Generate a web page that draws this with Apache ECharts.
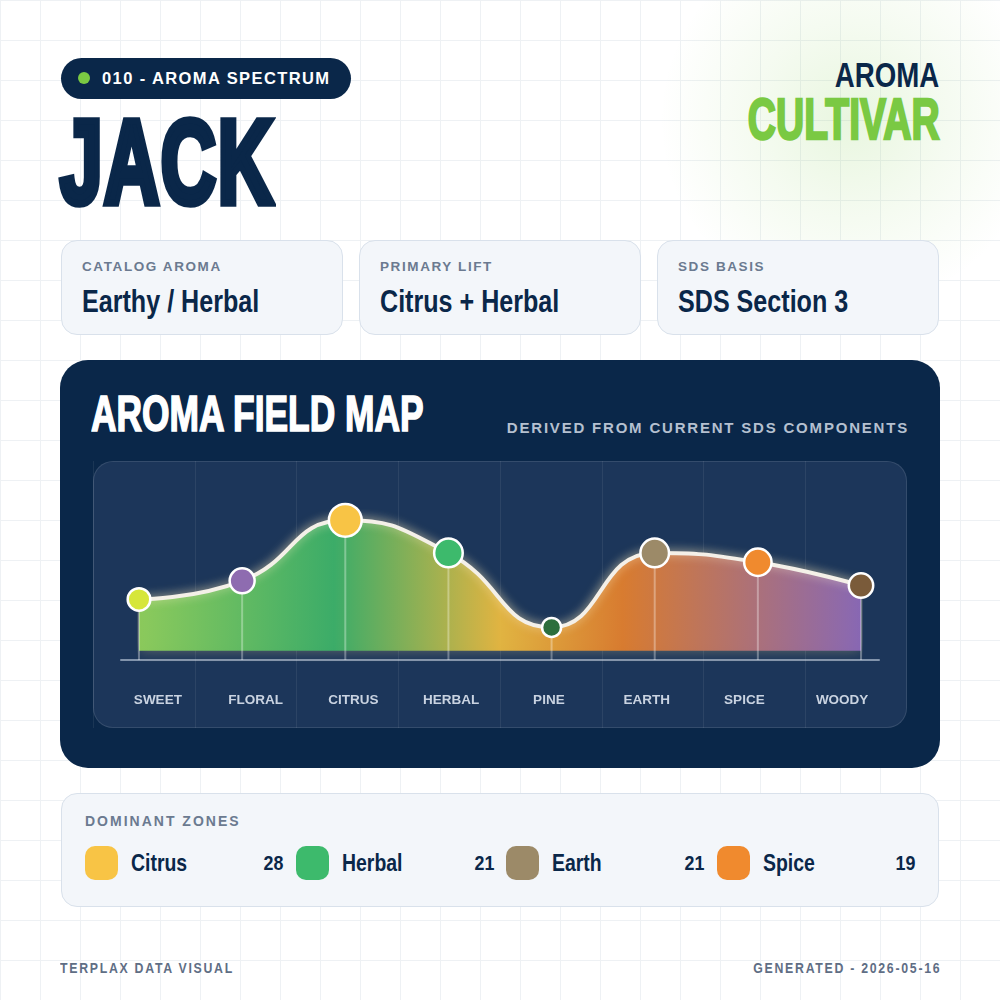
<!DOCTYPE html>
<html>
<head>
<meta charset="utf-8">
<script src="https://cdn.jsdelivr.net/npm/echarts@6/dist/echarts.min.js"></script>
<style>
  html, body { margin:0; padding:0; }
  body {
    width:1000px; height:1000px; position:relative; overflow:hidden;
    background-color:#ffffff;
    background-image:
      linear-gradient(to right, #eef1f4 1px, transparent 1px),
      linear-gradient(to bottom, #eef1f4 1px, transparent 1px);
    background-size:40px 40px;
    font-family:'Liberation Sans', Arial, sans-serif;
  }
  .abs { position:absolute; white-space:nowrap; }
  .glow { position:absolute; left:0; top:0; width:1000px; height:1000px;
    background: radial-gradient(circle 190px at 850px 120px, rgba(122,201,67,0.17) 0%, rgba(122,201,67,0.08) 50%, rgba(122,201,67,0) 100%); }
  .b { font-weight:700; }
  .pill { left:61px; top:58px; width:290px; height:41px; border-radius:21px; background:#0a2749; }
  .pilldot { left:78px; top:72px; width:12px; height:12px; border-radius:6px; background:#7ac943; }
  .pilltext { left:102px; top:70px; font-size:16.5px; line-height:16.5px; font-weight:700; color:#fff; letter-spacing:1.4px; }
  .jack { left:60px; top:102.5px; font-size:100px; line-height:100px; color:#0a2749; letter-spacing:2px;
    transform:scale(0.765,1.18); transform-origin:left top; -webkit-text-stroke:6.5px #0a2749; }
  .aroma-r { right:61px; top:57.4px; font-size:35px; line-height:35px; color:#0a2749;
    transform:scaleX(0.79); transform-origin:right top; }
  .cultivar { right:60px; top:90.9px; font-size:46px; line-height:46px; color:#7ac943;
    transform:scale(0.85,1.23); transform-origin:right top; -webkit-text-stroke:2px #7ac943; }
  .card { position:absolute; box-sizing:border-box; background:#f3f6fa; border:1px solid #d9e1eb; border-radius:16px; }
  .clabel { left:20px; top:18.6px; font-size:13.5px; line-height:13.5px; font-weight:700; color:#6b7a90; letter-spacing:1.6px; }
  .cvalue { left:20px; top:44.8px; font-size:31px; line-height:31px; color:#0a2749; font-weight:700;
    transform:scaleX(0.81); transform-origin:left top; }
  .panel { left:60px; top:360px; width:880px; height:408px; border-radius:28px; background:#0a2749; }
  .ptitle { left:91px; top:389.2px; font-size:42px; line-height:42px; color:#fff; font-weight:700;
    transform:scale(0.842,1.21); transform-origin:left top; -webkit-text-stroke:1.4px #fff; }
  .psub { right:91px; top:420.3px; font-size:15px; line-height:15px; font-weight:700; color:#b5c0d0; letter-spacing:1.8px; }
  .inner { left:93px; top:461px; width:814px; height:267px; box-sizing:border-box; border-radius:20px;
    background:#1c365a; border:1px solid rgba(255,255,255,0.11); }
  #chart { position:absolute; left:93px; top:461px; width:814px; height:267px; }
  .zlabel { left:23px; top:20px; font-size:14px; line-height:14px; font-weight:700; color:#6b7a90; letter-spacing:2px; }
  .swatch { width:33px; height:34px; border-radius:10px; }
  .zname { font-size:24px; line-height:24px; color:#0a2749; font-weight:700; transform:scaleX(0.81); transform-origin:left top; }
  .znum { font-size:21px; line-height:21px; color:#0a2749; font-weight:700; transform:scaleX(0.85); transform-origin:right top; }
  .foot { top:960.3px; font-size:15px; line-height:15px; color:#5f6e85; font-weight:700; letter-spacing:2.1px; }
</style>
</head>
<body>
<div class="glow"></div>

<div class="abs pill"></div>
<div class="abs pilldot"></div>
<div class="abs pilltext">010 - AROMA SPECTRUM</div>
<div class="abs jack b">JACK</div>
<div class="abs aroma-r b">AROMA</div>
<div class="abs cultivar b">CULTIVAR</div>

<div id="cards"></div>

<div class="abs panel"></div>
<div class="abs ptitle">AROMA FIELD MAP</div>
<div class="abs psub">DERIVED FROM CURRENT SDS COMPONENTS</div>
<div class="abs inner"></div>
<div id="chart"></div>

<div class="card" id="zones" style="left:61px; top:793px; width:878px; height:114px;">
  <div class="abs zlabel">DOMINANT ZONES</div>
</div>

<div class="abs foot" style="left:60px; transform:scaleX(0.82); transform-origin:left top;">TERPLAX DATA VISUAL</div>
<div class="abs foot" style="right:59px; transform:scaleX(0.82); transform-origin:right top;">GENERATED - 2026-05-16</div>

<script>
// ---- data ----
const categories = ['SWEET', 'FLORAL', 'CITRUS', 'HERBAL', 'PINE', 'EARTH', 'SPICE', 'WOODY'];
const intensity = [11, 15, 28, 21, 5, 21, 19, 14];
const dotColors = ['#d6e63a', '#8e6cb0', '#f8c445', '#3dba6c', '#2c6e3d', '#9c8a68', '#f08a2e', '#7a5b3a'];

const zoneNames = ['Citrus', 'Herbal', 'Earth', 'Spice'];
const zoneValues = [28, 21, 21, 19];
const zoneColors = ['#f8c445', '#3dba6c', '#9c8a68', '#f08a2e'];

const cardLabels = ['CATALOG AROMA', 'PRIMARY LIFT', 'SDS BASIS'];
const cardValues = ['Earthy / Herbal', 'Citrus + Herbal', 'SDS Section 3'];

const yMin = -2, yMax = 30;

// ---- info cards ----
const cardsEl = document.getElementById('cards');
cardLabels.forEach((lab, i) => {
  const c = document.createElement('div');
  c.className = 'card';
  c.style.left = (61 + i * 298) + 'px';
  c.style.top = '240px';
  c.style.width = '282px';
  c.style.height = '95px';
  c.innerHTML = '<div class="abs clabel">' + lab + '</div><div class="abs cvalue">' + cardValues[i] + '</div>';
  cardsEl.appendChild(c);
});

// ---- dominant zones ----
const zonesEl = document.getElementById('zones');
const zonesInnerW = 876;
zoneNames.forEach((name, i) => {
  const colLeft = 23 + i * 210.5;
  const colW = 198.5;
  const sw = document.createElement('div');
  sw.className = 'abs swatch';
  sw.style.left = colLeft + 'px'; sw.style.top = '52px'; sw.style.background = zoneColors[i];
  zonesEl.appendChild(sw);
  const nm = document.createElement('div');
  nm.className = 'abs zname';
  nm.style.left = (colLeft + 46) + 'px'; nm.style.top = '56.5px';
  nm.textContent = name;
  zonesEl.appendChild(nm);
  const nv = document.createElement('div');
  nv.className = 'abs znum';
  nv.style.right = (zonesInnerW - colLeft - colW) + 'px'; nv.style.top = '57.5px';
  nv.textContent = zoneValues[i];
  zonesEl.appendChild(nv);
});

// ---- chart ----
const chart = echarts.init(document.getElementById('chart'), null, { renderer: 'canvas' });
const hidden = { show: false };
const option = {
  animation: false,
  grid: [
    { left: 0, right: 0, top: 0, bottom: 0 },
    { left: 16, right: 16, top: 0, bottom: 68 },
    { left: 28, right: 28, top: 0, bottom: 68 },
    { left: 46, right: 46, top: 50, bottom: 68 }
  ],
  xAxis: [
    { gridIndex: 0, type: 'category', data: categories, boundaryGap: true,
      axisLine: hidden, axisTick: hidden, axisLabel: hidden,
      splitLine: { show: true, interval: 0, lineStyle: { color: 'rgba(255,255,255,0.07)', width: 1 } } },
    { gridIndex: 1, type: 'category', data: categories, boundaryGap: true,
      axisLine: hidden, axisTick: hidden, splitLine: hidden,
      axisLabel: { show: true, interval: 0, margin: 33, color: '#c9d3e1', fontSize: 13.5, fontWeight: 'bold',
        fontFamily: "'Liberation Sans', Arial, sans-serif" } },
    { gridIndex: 2, type: 'category', data: categories, boundaryGap: true,
      axisLine: { show: true, lineStyle: { color: 'rgba(215,225,240,0.55)', width: 2 } },
      axisTick: hidden, axisLabel: hidden, splitLine: hidden },
    { gridIndex: 3, type: 'category', data: categories, boundaryGap: false, show: false }
  ],
  yAxis: [
    { gridIndex: 0, type: 'value', show: false, splitLine: hidden },
    { gridIndex: 1, type: 'value', show: false, splitLine: hidden },
    { gridIndex: 2, type: 'value', show: false, splitLine: hidden },
    { gridIndex: 3, type: 'value', show: false, min: yMin, max: yMax, splitLine: hidden }
  ],
  series: [
    {
      type: 'line', xAxisIndex: 3, yAxisIndex: 3, data: intensity,
      smooth: 0.5, symbol: 'none', z: 2,
      lineStyle: { color: '#f4f0e8', width: 4, shadowBlur: 10, shadowColor: 'rgba(255,240,200,0.6)' },
      areaStyle: {
        origin: 'auto', opacity: 0.97,
        shadowBlur: 14, shadowColor: 'rgba(240,215,140,0.35)',
        color: new echarts.graphic.LinearGradient(0, 0, 1, 0, [
          { offset: 0, color: '#8ecd5b' },
          { offset: 0.27, color: '#3bae68' },
          { offset: 0.5, color: '#e5b640' },
          { offset: 0.67, color: '#dc7c2e' },
          { offset: 1, color: '#8a68b6' }
        ])
      }
    },
    {
      type: 'custom', xAxisIndex: 3, yAxisIndex: 3, z: 3,
      data: intensity.map((v, i) => [i, v]),
      renderItem: function (params, api) {
        const top = api.coord([api.value(0), api.value(1)]);
        const bot = api.coord([api.value(0), yMin]);
        return { type: 'line', shape: { x1: top[0], y1: top[1], x2: bot[0], y2: bot[1] },
          style: { stroke: 'rgba(255,255,255,0.32)', lineWidth: 2 } };
      }
    },
    {
      type: 'scatter', xAxisIndex: 3, yAxisIndex: 3, z: 4,
      data: intensity.map((v, i) => ({ value: v, itemStyle: { color: dotColors[i] } })),
      symbolSize: function (v) { return 16 + 0.6 * v; },
      itemStyle: { borderColor: '#ffffff', borderWidth: 2.5, opacity: 1 }
    }
  ]
};
chart.setOption(option);
</script>
</body>
</html>
